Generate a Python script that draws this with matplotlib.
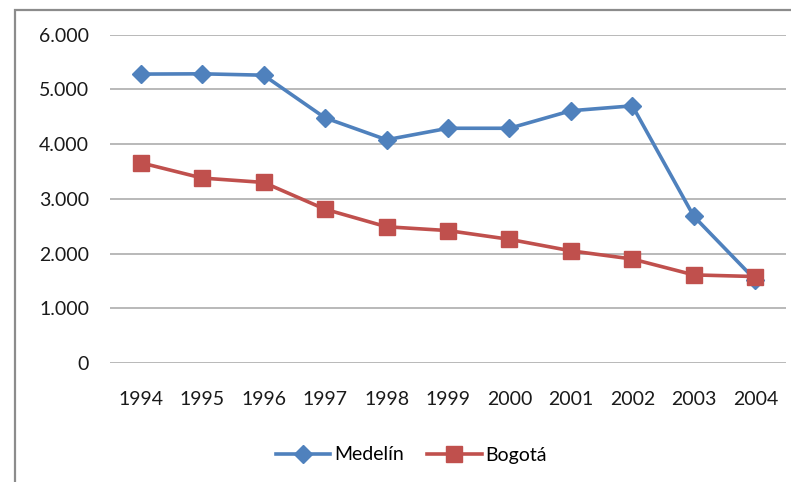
import matplotlib.pyplot as plt
from matplotlib.patches import Rectangle
from matplotlib.ticker import FuncFormatter

years = ['1994', '1995', '1996', '1997', '1998', '1999', '2000', '2001', '2002', '2003', '2004']
medellin = [5280, 5285, 5260, 4480, 4080, 4290, 4290, 4610, 4700, 2680, 1520]
bogota = [3660, 3380, 3300, 2810, 2490, 2420, 2260, 2050, 1900, 1610, 1580]

plt.rcParams['font.family'] = ['Lato', 'DejaVu Sans']

fig = plt.figure(figsize=(7.91, 4.82), dpi=100)
ax = fig.add_axes([110 / 791, 1 - 363 / 482, 676 / 791, 328.3 / 482])

x = range(len(years))
ax.plot(x, medellin, color='#4F81BD', lw=2.6, marker='D', ms=9, label='Medelín', zorder=3)
ax.plot(x, bogota, color='#C0504D', lw=2.6, marker='s', ms=11, label='Bogotá', zorder=4)

ax.set_xlim(-0.5, len(years) - 0.5)
ax.set_ylim(0, 6000)
ax.set_yticks(range(0, 6001, 1000))
ax.yaxis.set_major_formatter(FuncFormatter(lambda v, p: f'{int(v):,}'.replace(',', '.')))
ax.set_xticks(list(x))
ax.set_xticklabels(years)
ax.grid(axis='y', color='#a6a6a6', lw=1.1)
ax.set_axisbelow(True)
for s in ax.spines.values():
    s.set_visible(False)
ax.tick_params(length=0, labelsize=14, colors='#1a1a1a')
ax.tick_params(axis='y', pad=15)
ax.tick_params(axis='x', pad=20)

fig.legend(loc='center', bbox_to_anchor=(0.52, 1 - 455 / 482), ncol=2, frameon=False,
           fontsize=14, handlelength=2.8, columnspacing=1.2, handletextpad=0.2)

fig.patches.append(Rectangle((15 / 791, -0.1), 1.2, 1 - 10 / 482 + 0.1, transform=fig.transFigure,
                             fill=False, edgecolor='#8c8c8c', lw=1.6))

fig.savefig('out.png', dpi=100)
